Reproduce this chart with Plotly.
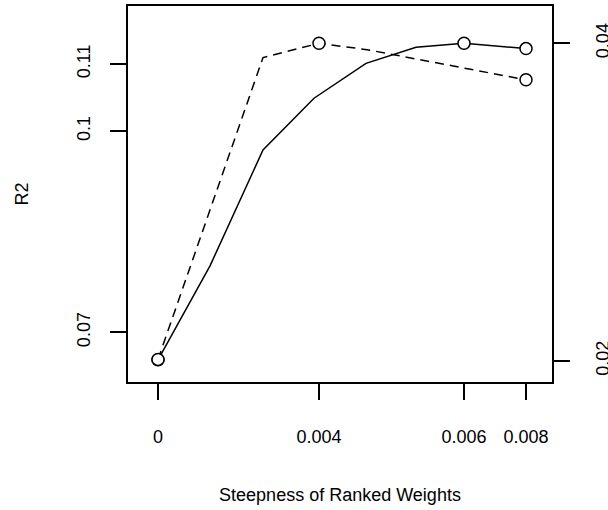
import plotly.graph_objects as go

# x positions (axis units) of the evaluated settings; tick labels give steepness
solid_x = [0.0, 0.52, 1.05, 1.56, 2.08, 2.58, 3.06, 3.68]
solid_y = [0.0659, 0.0799, 0.0972, 0.1049, 0.1101, 0.1125, 0.1131, 0.1123]
solid_marked = [0, 6, 7]

dashed_x = [0.0, 1.05, 1.61, 2.09, 3.68]
dashed_y = [0.0201, 0.0391, 0.0400, 0.0396, 0.0377]
dashed_marked = [0, 2, 4]

x_tickvals = [0.0, 1.61, 3.06, 3.68]
x_ticktext = ["0", "0.004", "0.006", "0.008"]
left_ticks = [0.07, 0.10, 0.11]
left_ticktext = ["0.07", "0.1", "0.11"]
right_ticks = [0.02, 0.04]
right_ticktext = ["0.02", "0.04"]

FONT = "Liberation Sans, Arial, sans-serif"
FS = 18
LW = 1.5

fig = go.Figure()
fig.add_trace(go.Scatter(x=solid_x, y=solid_y, mode="lines",
                         line=dict(color="black", width=LW), yaxis="y", showlegend=False))
fig.add_trace(go.Scatter(x=dashed_x, y=dashed_y, mode="lines",
                         line=dict(color="black", width=LW, dash="9px,6px"), yaxis="y2", showlegend=False))
marker = dict(symbol="circle", size=12, color="white", line=dict(color="black", width=LW))
fig.add_trace(go.Scatter(x=[solid_x[i] for i in solid_marked], y=[solid_y[i] for i in solid_marked],
                         mode="markers", marker=marker, yaxis="y", showlegend=False))
fig.add_trace(go.Scatter(x=[dashed_x[i] for i in dashed_marked], y=[dashed_y[i] for i in dashed_marked],
                         mode="markers", marker=marker, yaxis="y2", showlegend=False))

axis_common = dict(showgrid=False, zeroline=False, showline=True, linecolor="black", linewidth=LW,
                   ticks="outside", ticklen=16, tickwidth=LW, tickcolor="black", automargin=False,
                   tickfont=dict(family=FONT, size=FS, color="black"))

fig.update_layout(
    width=608, height=510,
    margin=dict(l=128, r=56, t=6, b=128),
    paper_bgcolor="white", plot_bgcolor="white",
    font=dict(family=FONT, size=FS, color="black"),
    xaxis=dict(range=[-0.30, 3.94], tickvals=x_tickvals, ticktext=x_ticktext, mirror=True,
               ticklabelstandoff=22,
               title=dict(text="Steepness of Ranked Weights", font=dict(family=FONT, size=FS), standoff=42),
               **axis_common),
    yaxis=dict(range=[0.06259, 0.11865], tickvals=left_ticks, ticktext=left_ticktext, tickangle=-90,
               ticklabelstandoff=13,
               title=dict(text="R2", font=dict(family=FONT, size=FS), standoff=41),
               **axis_common),
    yaxis2=dict(range=[0.018678, 0.042348], tickvals=right_ticks, ticktext=right_ticktext, tickangle=-90,
                overlaying="y", side="right", ticklabelstandoff=18,
                **axis_common),
)

fig.write_html("out.html")
